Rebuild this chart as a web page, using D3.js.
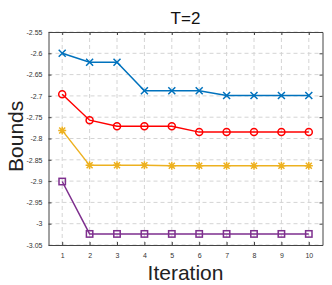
<!DOCTYPE html>
<html>
<head>
<meta charset="utf-8">
<script src="https://cdn.jsdelivr.net/npm/d3@7"></script>
<style>
body { margin: 0; background: #fff; }
svg { display: block; font-family: "Liberation Sans", Arial, sans-serif; }
</style>
</head>
<body>
<script>
var iterations = [1, 2, 3, 4, 5, 6, 7, 8, 9, 10];
var blueVals = [-2.600, -2.621, -2.621, -2.688, -2.688, -2.688, -2.699, -2.699, -2.699, -2.699];
var redVals = [-2.696, -2.757, -2.771, -2.771, -2.771, -2.785, -2.785, -2.785, -2.785, -2.785];
var yellowVals = [-2.781, -2.863, -2.863, -2.863, -2.864, -2.864, -2.864, -2.864, -2.864, -2.864];
var purpleVals = [-2.901, -3.024, -3.024, -3.024, -3.024, -3.024, -3.024, -3.024, -3.024, -3.024];
var yTicks = [-2.55, -2.6, -2.65, -2.7, -2.75, -2.8, -2.85, -2.9, -2.95, -3, -3.05];

var series = [
	{ vals: blueVals, color: '#0072BD', marker: 'x' },
	{ vals: redVals, color: '#FF0000', marker: 'o' },
	{ vals: yellowVals, color: '#EDB120', marker: '*' },
	{ vals: purpleVals, color: '#7E2F8E', marker: 's' }
];

var width = 332, height = 285;
var margin = { left: 48.5, right: 9.5, top: 32, bottom: 40 };

var svg = d3.select('body').append('svg')
	.attr('width', width)
	.attr('height', height);

var x = d3.scaleLinear().domain([0.5, 10.5]).range([margin.left, width - margin.right]);
var y = d3.scaleLinear().domain([-3.05, -2.55]).range([height - margin.bottom, margin.top]);

// grid
svg.append('g').selectAll('line').data(iterations).enter().append('line')
	.attr('x1', function (d) { return x(d); }).attr('x2', function (d) { return x(d); })
	.attr('y1', y(-3.05)).attr('y2', y(-2.55))
	.attr('stroke', '#d4d4d4').attr('stroke-width', 1).attr('stroke-dasharray', '4,3');
svg.append('g').selectAll('line').data(yTicks).enter().append('line')
	.attr('x1', x(0.5)).attr('x2', x(10.5))
	.attr('y1', function (d) { return y(d); }).attr('y2', function (d) { return y(d); })
	.attr('stroke', '#d4d4d4').attr('stroke-width', 1).attr('stroke-dasharray', '4,3');

// axes
var axL = svg.append('g').attr('transform', 'translate(' + margin.left + ',0)')
	.call(d3.axisLeft(y).tickValues(yTicks).tickSizeInner(-3).tickSizeOuter(0).tickPadding(6).tickFormat(function (d) { return String(d); }));
var axR = svg.append('g').attr('transform', 'translate(' + (width - margin.right) + ',0)')
	.call(d3.axisRight(y).tickValues(yTicks).tickSizeInner(-3).tickSizeOuter(0).tickFormat(''));
var axB = svg.append('g').attr('transform', 'translate(0,' + (height - margin.bottom) + ')')
	.call(d3.axisBottom(x).tickValues(iterations).tickSizeInner(-3).tickSizeOuter(0).tickPadding(8).tickFormat(d3.format('d')));
var axT = svg.append('g').attr('transform', 'translate(0,' + margin.top + ')')
	.call(d3.axisTop(x).tickValues(iterations).tickSizeInner(-3).tickSizeOuter(0).tickFormat(''));

[axL, axR, axB, axT].forEach(function (a) {
	a.select('.domain').attr('stroke', '#444').attr('stroke-width', 1);
	a.selectAll('.tick line').attr('stroke', '#444');
	a.selectAll('.tick text').attr('fill', '#333').style('font-size', '7px');
});

// lines and markers
var line = d3.line()
	.x(function (d, i) { return x(iterations[i]); })
	.y(function (d) { return y(d); });

series.forEach(function (s) {
	svg.append('path').datum(s.vals)
		.attr('d', line)
		.attr('fill', 'none')
		.attr('stroke', s.color)
		.attr('stroke-width', 1.5);

	var g = svg.append('g').selectAll('g').data(s.vals).enter().append('g')
		.attr('transform', function (d, i) { return 'translate(' + x(iterations[i]) + ',' + y(d) + ')'; })
		.attr('stroke', s.color).attr('stroke-width', 1.5).attr('fill', 'none');
	if (s.marker === 'o') {
		g.append('circle').attr('r', 3.5);
	} else if (s.marker === 's') {
		g.append('rect').attr('x', -3.2).attr('y', -3.2).attr('width', 6.4).attr('height', 6.4);
	} else if (s.marker === 'x') {
		g.append('path').attr('d', 'M-3.5,-3.5L3.5,3.5M-3.5,3.5L3.5,-3.5');
	} else {
		g.append('path').attr('d', 'M-4,0L4,0M0,-4L0,4M-3,-3L3,3M-3,3L3,-3');
	}
});

// labels
svg.append('text').attr('x', x(5.5)).attr('y', 24)
	.attr('text-anchor', 'middle').style('font-size', '17px').attr('fill', '#111').text('T=2');
svg.append('text').attr('x', x(5.5)).attr('y', 280)
	.attr('text-anchor', 'middle').style('font-size', '21px').attr('fill', '#222').text('Iteration');
svg.append('text').attr('transform', 'translate(23,' + y(-2.795) + ') rotate(-90)')
	.attr('text-anchor', 'middle').style('font-size', '21px').attr('fill', '#222').text('Bounds');
</script>
</body>
</html>
